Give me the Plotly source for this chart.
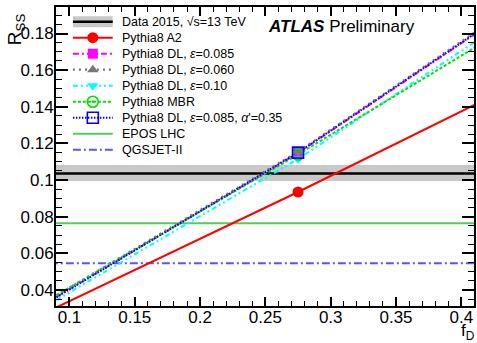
import plotly.graph_objects as go

# ---------------- data ----------------
f_points = [0.09, 0.275, 0.41]          # f_D values where the predictions are given
f_full = [0.085, 0.415]                  # span for f_D-independent values
marker_index = 1                         # f_D = 0.275 point carries the marker

data_center = 0.1036
data_lo = 0.0995
data_hi = 0.1082

a2 = [0.0305, 0.0935, 0.1410]
dl085 = [0.0362, 0.1148, 0.1795]
dl060 = [0.0370, 0.1155, 0.1805]
dl010 = [0.0345, 0.1115, 0.1752]
mbr = [0.0372, 0.1140, 0.1722]
dl085_alpha = [0.0360, 0.1150, 0.1798]
epos = 0.0764
qgsjet = 0.0546

x_ticks = [0.1, 0.15, 0.2, 0.25, 0.3, 0.35, 0.4]
y_ticks = [0.04, 0.06, 0.08, 0.1, 0.12, 0.14, 0.16, 0.18]

labels = [
    "Data 2015, √s=13 TeV",
    "Pythia8 A2",
    "Pythia8 DL, <i>ε</i>=0.085",
    "Pythia8 DL, <i>ε</i>=0.060",
    "Pythia8 DL, <i>ε</i>=0.10",
    "Pythia8 MBR",
    "Pythia8 DL, <i>ε</i>=0.085, <i>α</i>'=0.35",
    "EPOS LHC",
    "QGSJET-II",
]

# ---------------- styles ----------------
FONT = "Liberation Sans, Arial, Helvetica, sans-serif"
series = [
    # values, color, dash, width, symbol, size, marker line width
    (a2, "#ff0000", "solid", 2, "circle", 11, 0),
    (dl085, "#ff00ff", "6px,3px,2px,3px", 2, "square", 10, 0),
    (dl060, "#777777", "2px,4px", 2.2, "triangle-up", 10, 0),
    (dl010, "#00ffff", "5px,3px,2px,3px,2px,3px", 2, "triangle-down", 10, 0),
    (mbr, "#00e000", "3px,2px", 2, "circle-open-dot", 11, 1.6),
    (dl085_alpha, "#0000ff", "1.5px,1.5px", 2, "square-open", 11, 1.6),
]
flat = [
    (epos, "#55cc55", "solid", 2),
    (qgsjet, "#5a5ae6", "8px,3px,2px,3px", 2),
]

fig = go.Figure()

# data band and central value
fig.add_trace(go.Scatter(
    x=[f_full[0], f_full[1], f_full[1], f_full[0], f_full[0]],
    y=[data_lo, data_lo, data_hi, data_hi, data_lo],
    mode="lines", fill="toself", fillcolor="#c8c8c8",
    line=dict(width=0, color="#c8c8c8"), hoverinfo="skip"))
fig.add_trace(go.Scatter(x=f_full, y=[data_center, data_center], mode="lines",
                         line=dict(color="black", width=2.5)))

for val, col, dash, w in flat:
    fig.add_trace(go.Scatter(x=f_full, y=[val, val], mode="lines",
                             line=dict(color=col, dash=dash, width=w)))

for vals, col, dash, w, sym, size, mlw in series:
    fig.add_trace(go.Scatter(x=f_points, y=vals, mode="lines",
                             line=dict(color=col, dash=dash, width=w)))
for vals, col, dash, w, sym, size, mlw in series:
    fig.add_trace(go.Scatter(
        x=[f_points[marker_index]], y=[vals[marker_index]], mode="markers",
        marker=dict(symbol=sym, size=size, color=col,
                    line=dict(color=col, width=mlw))))

# ---------------- custom legend (pixel overlay axes) ----------------
PW, PH = 420, 299
row0, drow = 14.7, 16.0
kx0, kx1, kmid, tx = 17, 57, 37, 64
rows = [row0 + i * drow for i in range(len(labels))]

fig.add_shape(type="rect", xref="x2", yref="y2", x0=kx0, x1=kx1,
              y0=rows[0] - 5.5, y1=rows[0] + 5.5, fillcolor="#c8c8c8",
              line=dict(width=0), layer="above")
fig.add_shape(type="line", xref="x2", yref="y2", x0=kx0, x1=kx1,
              y0=rows[0], y1=rows[0], line=dict(color="black", width=2.5),
              layer="above")
for i, (vals, col, dash, w, sym, size, mlw) in enumerate(series):
    r = rows[i + 1]
    fig.add_trace(go.Scatter(x=[kx0, kx1], y=[r, r], mode="lines", xaxis="x2", yaxis="y2",
                             line=dict(color=col, dash=dash, width=w)))
    fig.add_trace(go.Scatter(x=[kmid], y=[r], mode="markers", xaxis="x2", yaxis="y2",
                             marker=dict(symbol=sym, size=size, color=col,
                                         line=dict(color=col, width=mlw))))
for j, (val, col, dash, w) in enumerate(flat):
    r = rows[len(series) + 1 + j]
    fig.add_trace(go.Scatter(x=[kx0, kx1], y=[r, r], mode="lines", xaxis="x2", yaxis="y2",
                             line=dict(color=col, dash=dash, width=w)))

annotations = []
for lab, r in zip(labels, rows):
    annotations.append(dict(text=lab, xref="x2", yref="y2", x=tx, y=r,
                            xanchor="left", yanchor="middle", showarrow=False,
                            font=dict(family=FONT, size=12.5, color="black")))

annotations.append(dict(text="<b><i>ATLAS</i></b> Preliminary", xref="paper", yref="paper",
                        x=(267 - 56) / PW, y=(306 - 26.5) / PH, xanchor="left",
                        yanchor="middle", showarrow=False,
                        font=dict(family=FONT, size=17, color="black")))
annotations.append(dict(text="R<sub>SS</sub>", xref="paper", yref="paper",
                        x=(16 - 56) / PW, y=(306 - 29) / PH, xanchor="center",
                        yanchor="middle", textangle=-90, showarrow=False,
                        font=dict(family=FONT, size=19, color="black")))
annotations.append(dict(text="f<sub>D</sub>", xref="paper", yref="paper",
                        x=(479 - 56) / PW, y=(306 - 345) / PH, xanchor="right",
                        yanchor="bottom", showarrow=False,
                        font=dict(family=FONT, size=17, color="black")))

axis_common = dict(showline=True, linewidth=2, linecolor="black", mirror="allticks",
                   ticks="inside", tickcolor="black", tickwidth=1.6,
                   showgrid=False, zeroline=False,
                   tickfont=dict(family=FONT, size=17, color="black"))

fig.update_layout(
    width=477, height=343,
    margin=dict(l=56, r=1, t=7, b=37),
    plot_bgcolor="white", paper_bgcolor="white",
    showlegend=False,
    font=dict(family=FONT, color="black"),
    xaxis=dict(range=[0.0897, 0.4097], tickvals=x_ticks, ticklen=9,
               ticktext=[f"{v:g}" for v in x_ticks], ticklabelstandoff=-5,
               minor=dict(dtick=0.01, tick0=0, ticklen=5, ticks="inside",
                          tickcolor="black", tickwidth=1.3),
               **axis_common),
    yaxis=dict(range=[0.03127, 0.19447], tickvals=y_ticks, ticklen=12,
               ticktext=[f"{v:g}" for v in y_ticks], ticklabelstandoff=-3,
               minor=dict(dtick=0.005, tick0=0, ticklen=6, ticks="inside",
                          tickcolor="black", tickwidth=1.3),
               **axis_common),
    xaxis2=dict(overlaying="x", anchor="y2", range=[0, PW], visible=False, fixedrange=True),
    yaxis2=dict(overlaying="y", anchor="x2", range=[PH, 0], visible=False, fixedrange=True),
    annotations=annotations,
)

fig.write_html("out.html")
